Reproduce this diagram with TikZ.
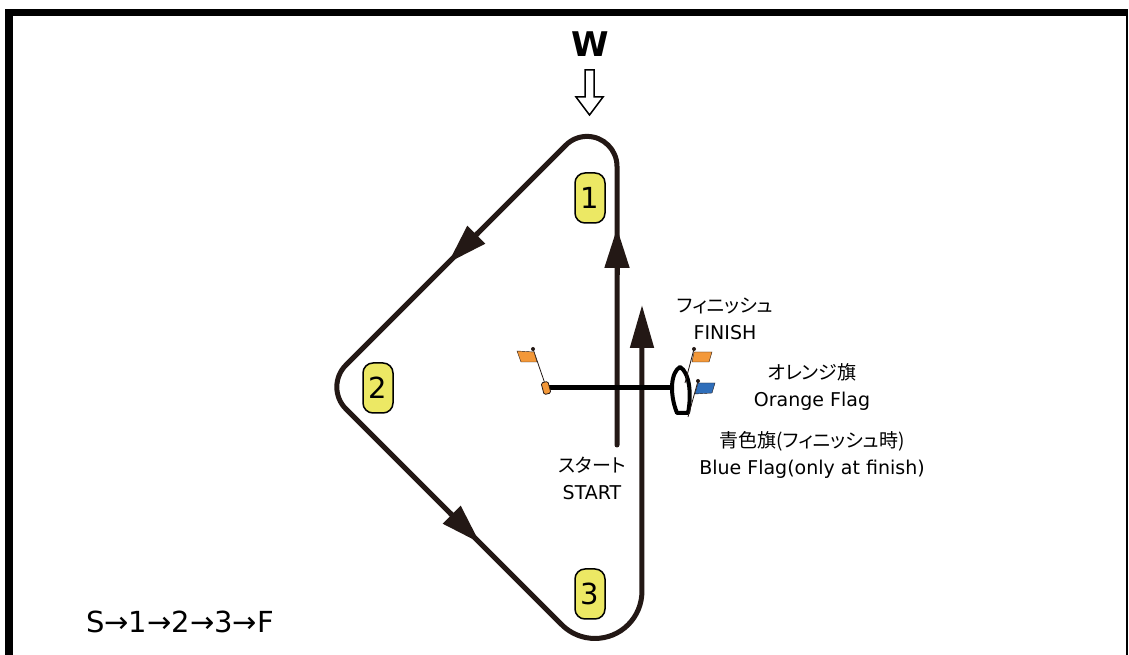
\documentclass[tikz,border=0pt]{standalone}
\usepackage{fontspec}
\setmainfont{DejaVu Sans}
\newfontfamily\jpfont[RawFeature=+palt]{Noto Sans CJK JP}
\usetikzlibrary{arrows.meta}
\definecolor{course}{RGB}{35,24,21}
\definecolor{markyellow}{RGB}{236,232,100}
\definecolor{flagorange}{RGB}{243,152,57}
\definecolor{flagblue}{RGB}{47,110,186}
\begin{document}
\begin{tikzpicture}[x=1pt,y=1pt,
  courseline/.style={draw=course,line width=5pt,line cap=round},
  coursearrow/.style={draw=course,line width=5pt,-{Triangle[length=40pt,width=24pt]}},
  markbox/.style={rectangle,rounded corners=10pt,minimum width=30pt,minimum height=50pt,inner sep=0pt,fill=markyellow,draw=black,line width=1.5pt,font=\fontsize{29}{34}\selectfont},
  twoline/.style={align=center,inner sep=0pt,font=\fontsize{19}{27}\selectfont},
  flagpole/.style={draw=course,line width=0.8pt},
  flagknob/.style={circle,fill=course,inner sep=0pt,minimum size=4pt}]
\useasboundingbox (0,0) rectangle (1129,655);
% frame
\fill (4.5,0) rectangle (12.5,646);
\fill (4.5,639) rectangle (1128,646);
\fill (1126,0) rectangle (1128,646);
% wind
\node[font=\fontsize{34}{40}\selectfont\bfseries,inner sep=0pt] (wind) at (590,610.5) {W};
\draw[line width=1.5pt,fill=white] (585,585) -- (594,585) -- (594,558) -- (603,558) -- (589.5,540) -- (576,558) -- (585,558) -- cycle;
% course
\draw[courseline,-{Triangle[length=43pt,width=23pt]}] (617,210) -- (617,488.6)
  arc[start angle=0,end angle=135,radius=30] -- (345.9,289.9)
  arc[start angle=135,end angle=225,radius=31] -- (561.7,30.3)
  arc[start angle=225,end angle=360,radius=47] -- (642,350);
\draw[coursearrow] (617,380) -- (617,427);
\draw[coursearrow] (478,422) -- (448,392);
\draw[coursearrow] (450,142) -- (480,112);
% marks
\node[markbox] (m1) at (590,457) {1};
\node[markbox] (m2) at (378,267) {2};
\node[markbox] (m3) at (590,61) {3};
% start line
\coordinate (boatport) at (672,267);
\coordinate (pinend) at (546,267);
\draw[line width=5pt] (pinend) -- (boatport);
\node[draw=course,fill=flagorange,rounded corners=1.5pt,minimum width=7pt,minimum height=12pt,inner sep=0pt,rotate=15,line width=0.8pt] (pin) at (pinend) {};
\draw[flagpole] (pin.north) -- (533,306);
\fill[flagorange,draw=course,line width=0.4pt] (534,303) -- (517,304) -- (521,293) -- (537,293) -- cycle;
\node[flagknob] at (533,306) {};
% committee boat
\draw[line width=4pt,line join=round,fill=white] (677,242) .. controls (669,262) and (671,283) .. (680,288)
  .. controls (689,283) and (692,262) .. (688,242) -- cycle;
\draw[flagpole] (685,272) -- (694,306);
\fill[flagorange,draw=course,line width=0.4pt] (694,303) -- (712,303) -- (709,293) -- (692,293) -- cycle;
\node[flagknob] at (694,306) {};
\draw[flagpole] (688,238) -- (698,274);
\fill[flagblue,draw=course,line width=0.4pt] (698,272) -- (715,272) -- (712,262) -- (695,261) -- cycle;
\node[flagknob] at (698,274) {};
% labels
\node[twoline] (finish) at (725,336) {{\jpfont フィニッシュ}\\FINISH};
\node[twoline] (orangeflag) at (812,268) {{\jpfont オレンジ旗}\\Orange Flag};
\node[twoline] (blueflag) at (812,200) {{\jpfont 青色旗(フィニッシュ時)}\\Blue Flag(only at finish)};
\node[twoline] (start) at (592,177) {{\jpfont スタート}\\START};
\node[font=\fontsize{29}{34}\selectfont,inner sep=0pt,anchor=west] (order) at (86,33) {S→1→2→3→F};
\end{tikzpicture}
\end{document}
